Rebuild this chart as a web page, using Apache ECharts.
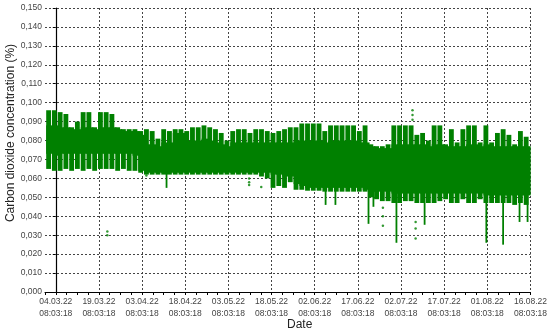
<!DOCTYPE html>
<html><head><meta charset="utf-8">
<script src="https://cdn.jsdelivr.net/npm/echarts@6/dist/echarts.min.js"></script>
<style>html,body{margin:0;padding:0;background:#fff}#c{width:550px;height:333px}</style>
</head><body><div id="c"></div>
<script>
// ---------- DATA ----------
const ORIGIN = '2022-03-04T08:03:18';
const xTickDates = ['04.03.22','19.03.22','03.04.22','18.04.22','03.05.22','18.05.22','02.06.22','17.06.22','02.07.22','17.07.22','01.08.22','16.08.22'];
const xTickTime = '08:03:18';
const binDaysLength = 2;
const binStarts = ['2022-03-01','2022-03-03','2022-03-05','2022-03-07','2022-03-09','2022-03-11','2022-03-13','2022-03-15','2022-03-17','2022-03-19',
'2022-03-21','2022-03-23','2022-03-25','2022-03-27','2022-03-29','2022-03-31','2022-04-02','2022-04-04','2022-04-06','2022-04-08',
'2022-04-10','2022-04-12','2022-04-14','2022-04-16','2022-04-18','2022-04-20','2022-04-22','2022-04-24','2022-04-26','2022-04-28',
'2022-04-30','2022-05-02','2022-05-04','2022-05-06','2022-05-08','2022-05-10','2022-05-12','2022-05-14','2022-05-16','2022-05-18',
'2022-05-20','2022-05-22','2022-05-24','2022-05-26','2022-05-28','2022-05-30','2022-06-01','2022-06-03','2022-06-05','2022-06-07',
'2022-06-09','2022-06-11','2022-06-13','2022-06-15','2022-06-17','2022-06-19','2022-06-21','2022-06-23','2022-06-25','2022-06-27',
'2022-06-29','2022-07-01','2022-07-03','2022-07-05','2022-07-07','2022-07-09','2022-07-11','2022-07-13','2022-07-15','2022-07-17',
'2022-07-19','2022-07-21','2022-07-23','2022-07-25','2022-07-27','2022-07-29','2022-07-31','2022-08-02','2022-08-04','2022-08-06',
'2022-08-08','2022-08-10','2022-08-12','2022-08-14'];
const envHigh = [0.096,0.096,0.095,0.094,0.087,0.090,0.095,0.095,0.087,0.095,0.095,0.094,0.087,0.086,0.086,0.086,0.085,
0.086,0.085,0.081,0.086,0.085,0.086,0.086,0.085,0.087,0.087,0.088,0.087,0.086,0.084,0.080,0.085,0.086,0.086,0.084,0.086,0.086,0.085,0.084,0.085,0.086,0.087,0.087,0.089,
0.089,0.089,0.089,0.085,0.088,0.088,0.088,0.088,0.088,0.085,0.088,0.078,0.077,0.077,0.078,0.088,0.088,0.088,0.088,0.083,0.084,0.080,0.088,0.088,0.078,0.086,0.079,0.086,0.088,0.088,0.079,0.088,0.079,0.084,0.086,0.083,0.078,0.085,0.082];
const coreHigh = [0.088,0.088,0.087,0.087,0.086,0.086,0.087,0.087,0.086,0.087,0.087,0.087,0.086,0.085,0.085,0.085,0.083,
0.078,0.078,0.077,0.079,0.079,0.084,0.084,0.080,0.080,0.080,0.081,0.080,0.079,0.078,0.077,0.079,0.079,0.079,0.079,0.079,0.079,0.079,0.079,0.079,0.079,0.079,0.080,0.080,
0.080,0.080,0.080,0.079,0.080,0.080,0.080,0.080,0.080,0.079,0.079,0.077,0.076,0.076,0.076,0.078,0.078,0.078,0.078,0.078,0.078,0.077,0.078,0.078,0.077,0.077,0.077,0.077,0.078,0.078,0.077,0.078,0.077,0.077,0.077,0.077,0.077,0.077,0.077];
const coreLow = [0.073,0.072,0.073,0.073,0.073,0.073,0.073,0.073,0.073,0.073,0.073,0.073,0.073,0.073,0.073,0.072,0.064,
0.063,0.063,0.063,0.063,0.063,0.063,0.063,0.063,0.063,0.063,0.063,0.063,0.063,0.063,0.063,0.063,0.063,0.063,0.063,0.063,0.063,0.063,0.062,0.062,0.061,0.061,0.057,0.056,
0.055,0.055,0.055,0.055,0.055,0.055,0.055,0.055,0.055,0.055,0.054,0.053,0.053,0.053,0.053,0.052,0.052,0.052,0.052,0.052,0.052,0.052,0.052,0.052,0.052,0.052,0.052,0.052,0.052,0.052,0.052,0.051,0.051,0.051,0.051,0.051,0.051,0.051,0.051];
const envLow = [0.065,0.064,0.064,0.065,0.064,0.065,0.064,0.065,0.064,0.065,0.065,0.065,0.064,0.065,0.064,0.064,0.063,
0.062,0.062,0.062,0.062,0.062,0.062,0.062,0.062,0.062,0.062,0.062,0.062,0.062,0.062,0.062,0.062,0.062,0.062,0.062,0.062,0.061,0.060,0.055,0.056,0.055,0.058,0.054,0.054,
0.0535,0.0535,0.0535,0.053,0.053,0.053,0.053,0.053,0.053,0.053,0.053,0.050,0.049,0.048,0.048,0.047,0.047,0.048,0.048,0.047,0.047,0.047,0.047,0.048,0.049,0.047,0.047,0.049,0.047,0.047,0.049,0.047,0.047,0.047,0.047,0.047,0.046,0.047,0.046];
const spikeDates = ['2022-04-11T20:00','2022-06-06T03:00','2022-06-09T13:00','2022-06-21T01:00','2022-06-22T18:00','2022-06-30T18:00','2022-07-10T13:00','2022-08-01T00:00','2022-08-06T20:00','2022-08-12T13:00','2022-08-15T08:00'];
const spikeLows = [0.055,0.046,0.046,0.036,0.045,0.026,0.0355,0.026,0.025,0.037,0.037];
const dotDates = ['2022-03-22T06:00','2022-03-22T06:00','2022-04-04T20:00','2022-05-10T13:00','2022-05-10T13:00','2022-05-10T13:00','2022-05-14T18:00',
'2022-06-26T01:00','2022-06-26T01:00','2022-06-26T01:00','2022-07-07T10:00','2022-07-07T10:00','2022-07-07T10:00','2022-07-06T08:00','2022-07-06T08:00','2022-07-06T08:00'];
const dotValues = [0.032,0.030,0.0615,0.060,0.058,0.0565,0.0555,0.0445,0.040,0.035,0.037,0.0336,0.0283,0.096,0.0935,0.091];

// ---------- BUILD ----------
const GREEN = '#008000';
const t0 = Date.parse(ORIGIN + 'Z');
function dayOf(s) { if (s.length === 10) s += 'T00:00'; return (Date.parse(s + ':00Z') - t0) / 864e5; }
const envData = binStarts.map((d, i) => [dayOf(d), dayOf(d) + binDaysLength, envLow[i], envHigh[i]]);
const coreData = binStarts.map((d, i) => [dayOf(d), dayOf(d) + binDaysLength, coreLow[i], coreHigh[i]]);
const spikeData = spikeDates.map((d, i) => [dayOf(d), spikeLows[i], 0.065]);
const dotData = dotDates.map((d, i) => [dayOf(d), dotValues[i]]);

function rectItem(gapRight) {
  return function (params, api) {
    const a = api.coord([api.value(0), api.value(3)]);
    const b = api.coord([api.value(1), api.value(2)]);
    return { type: 'rect', shape: { x: a[0], y: a[1], width: Math.max(b[0] - a[0] - gapRight, 0.8), height: b[1] - a[1] }, style: { fill: GREEN } };
  };
}

const FONT = 'Liberation Sans, Arial, sans-serif';
const chart = echarts.init(document.getElementById('c'), null, { renderer: 'canvas' });
const labelStyle = { color: '#444', fontSize: 8.5, fontFamily: FONT };
chart.setOption({
  animation: false,
  grid: { left: 45, right: 18, top: 8, bottom: 41, containLabel: false },
  xAxis: {
    type: 'value', min: -3.75, max: 165, interval: 3.75,
    axisLine: { show: true, lineStyle: { color: '#000', width: 1 } },
    axisTick: { show: true, length: 3, lineStyle: { color: '#000' } },
    axisLabel: Object.assign({}, labelStyle, {
      margin: 4, lineHeight: 12,
      formatter: function (v) {
        const k = Math.round(v * 100) / 100;
        if (k >= 0 && Math.abs(k / 15 - Math.round(k / 15)) < 1e-6) return xTickDates[Math.round(k / 15)] + '\n' + xTickTime;
        return '';
      }
    }),
    splitLine: { show: true, lineStyle: { color: ['rgba(0,0,0,0)', '#444', 'rgba(0,0,0,0)', 'rgba(0,0,0,0)'], type: [2, 2], width: 1 } }
  },
  yAxis: {
    type: 'value', min: 0, max: 0.15, interval: 0.01,
    axisLine: { show: true, lineStyle: { color: '#000', width: 1.2 } },
    axisTick: { show: true, length: 3, lineStyle: { color: '#000' } },
    axisLabel: Object.assign({}, labelStyle, { margin: 3, formatter: v => v.toFixed(3).replace('.', ',') }),
    splitLine: { show: true, lineStyle: { color: '#444', type: [2, 2], width: 1 } }
  },
  graphic: [
    { type: 'text', x: 11, y: 133, rotation: Math.PI / 2, style: { text: 'Carbon dioxide concentration (%)', fill: '#222', font: '12px ' + FONT, textAlign: 'center', textVerticalAlign: 'middle' } },
    { type: 'text', left: 287, top: 319, style: { text: 'Date', fill: '#222', font: '12px ' + FONT } }
  ],
  series: [
    { type: 'custom', renderItem: rectItem(0.9), data: envData, encode: { x: [0, 1], y: [2, 3] }, clip: true, z: 3 },
    { type: 'custom', renderItem: rectItem(-1.2), data: coreData, encode: { x: [0, 1], y: [2, 3] }, clip: true, z: 4 },
    { type: 'custom', data: spikeData, encode: { x: 0, y: [1, 2] }, clip: true, z: 5,
      renderItem: function (params, api) {
        const a = api.coord([api.value(0), api.value(2)]);
        const b = api.coord([api.value(0), api.value(1)]);
        return { type: 'rect', shape: { x: a[0] - 0.9, y: a[1], width: 1.8, height: b[1] - a[1] }, style: { fill: GREEN } };
      } },
    { type: 'scatter', data: dotData, symbolSize: 2.5, itemStyle: { color: GREEN }, z: 6 }
  ]
});
</script></body></html>
